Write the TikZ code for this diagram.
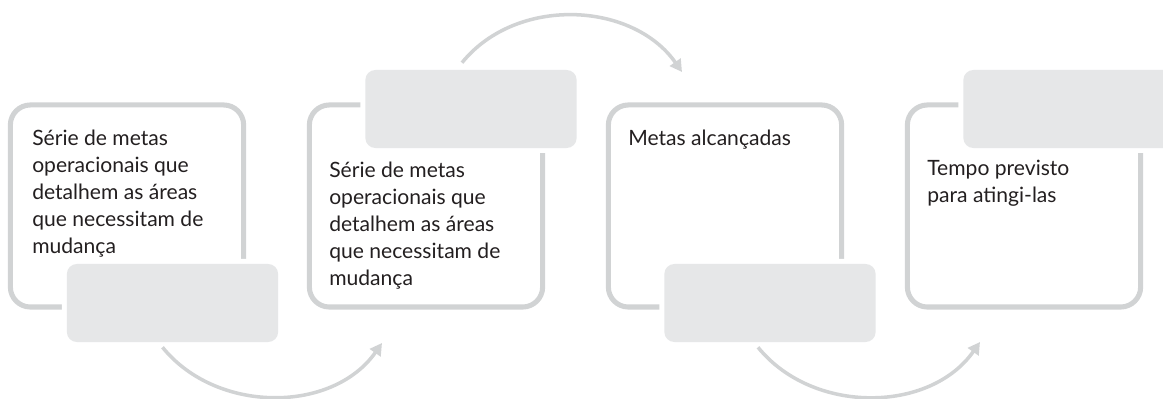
\documentclass[tikz,border=0pt]{standalone}
\usepackage{fontspec}
\setmainfont{Lato}
\usetikzlibrary{arrows.meta}
\definecolor{framegray}{HTML}{D1D3D4}
\definecolor{tabgray}{HTML}{E6E7E8}
\definecolor{inkgray}{HTML}{231F20}

\begin{document}
\begin{tikzpicture}[
        x=0.025cm, y=0.025cm,
        frame/.style={draw=framegray, line width=3.6pt, rounded corners=0.5cm,
            minimum width=5.83cm, minimum height=5.05cm, inner sep=0pt},
        tab/.style={fill=tabgray, rounded corners=0.25cm, minimum width=5.28cm,
            minimum height=1.95cm, inner sep=0pt, preaction={draw=white, line width=7.1pt}},
        txt/.style={anchor=north west, align=left, inner sep=0pt, text=inkgray,
            font=\fontsize{15}{19.2}\selectfont},
        flow/.style={draw=framegray, line width=2.5pt, -{Triangle[length=0.3cm, width=0.32cm]}}
    ]
    \useasboundingbox (0,0) rectangle (1163,399);
    \clip (0,0) rectangle (1163,399);

    % --- Frames ---
    \node[frame] (box1) at (127,193) {};
    \node[frame] (box2) at (426,193) {};
    \node[frame] (box3) at (725,193) {};
    \node[frame] (box4) at (1024,193) {};

    % --- Tabs ---
    \node[tab] (tab1) at (172.5,96) {};
    \node[tab] (tab2) at (471,290) {};
    \node[tab] (tab3) at (770,96) {};
    \node[tab] (tab4) at (1069,290) {};

    % --- Texts ---
    \node[txt] (txt1) at (32,269) {Série de metas\\operacionais que\\detalhem as áreas\\que necessitam de\\mudança};
    \node[txt] (txt2) at (329,237) {Série de metas\\operacionais que\\detalhem as áreas\\que necessitam de\\mudança};
    \node[txt] (txt3) at (628,269) {Metas alcançadas};
    \node[txt] (txt4) at (927,239) {Tempo previsto\\para atingi-las};

    % --- Arrows ---
    \coordinate (in2) at (382,56);
    \coordinate (in3) at (682,327);
    \coordinate (in4) at (980,57);
    \draw[flow] ([shift={(-10,-5)}]tab1.south) to[out=-51, in=-125] (in2);
    \draw[flow] ([shift={(-9,7)}]tab2.north) to[out=51, in=125] (in3);
    \draw[flow] ([shift={(-12,-5)}]tab3.south) to[out=-51, in=-125] (in4);
\end{tikzpicture}
\end{document}
